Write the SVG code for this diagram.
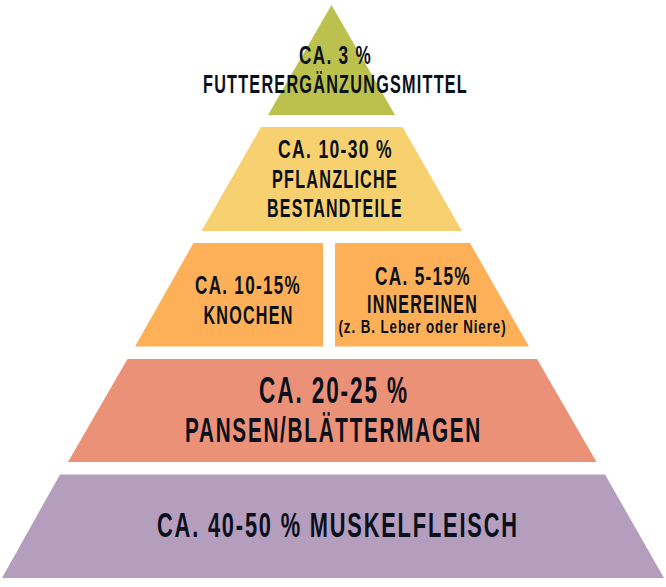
<svg xmlns="http://www.w3.org/2000/svg" width="666" height="587" viewBox="0 0 666 587">
<style>
text{font-family:"Liberation Sans Narrow","Liberation Sans",sans-serif;font-weight:700;fill:#0a101c;font-size:26.5px;letter-spacing:2px}
.l{font-size:36px;letter-spacing:3px}
.s{font-size:17.5px;letter-spacing:1.2px}
</style>
<rect width="666" height="587" fill="#ffffff"/>
<g id="muskelfleisch">
<polygon points="60,474.5 605,474.5 664,578 2,578" fill="#b59dbe"/>
<text class="l" transform="translate(157 537) scale(.6 1)" textLength="603" lengthAdjust="spacingAndGlyphs">CA. 40-50 % MUSKELFLEISCH</text>
</g>
<g id="pansen">
<polygon points="127.5,359 537,359 596.5,462 68,462" fill="#ea9178"/>
<text class="l" x="259" y="403" textLength="150" lengthAdjust="spacingAndGlyphs">CA. 20-25 %</text>
<text class="l" transform="translate(185 441.5) scale(.6 1)" textLength="495" lengthAdjust="spacingAndGlyphs">PANSEN/BLÄTTERMAGEN</text>
</g>
<g id="knochen">
<polygon points="193.5,243 323,243 323,346.5 135,346.5" fill="#fdb058"/>
<text x="195" y="294" textLength="106" lengthAdjust="spacingAndGlyphs">CA. 10-15%</text>
<text x="203.500" y="324" textLength="90" lengthAdjust="spacingAndGlyphs">KNOCHEN</text>
</g>
<g id="innereien">
<polygon points="335,243 470,243 529,346.500 335,346.500" fill="#fdb058"/>
<text x="375" y="285" textLength="96" lengthAdjust="spacingAndGlyphs">CA. 5-15%</text>
<text x="367" y="313" textLength="111" lengthAdjust="spacingAndGlyphs">INNEREINEN</text>
<text class="s" x="338.500" y="333" textLength="168" lengthAdjust="spacingAndGlyphs">(z. B. Leber oder Niere)</text>
</g>
<g id="pflanzlich">
<polygon points="261,127 402.500,127 462,231 201.500,231" fill="#f7d06f"/>
<text x="278" y="158" textLength="115" lengthAdjust="spacingAndGlyphs">CA. 10-30 %</text>
<text x="272" y="188" textLength="126" lengthAdjust="spacingAndGlyphs">PFLANZLICHE</text>
<text x="267" y="216.500" textLength="136" lengthAdjust="spacingAndGlyphs">BESTANDTEILE</text>
</g>
<g id="ergaenzung">
<polygon points="331.500,5 395,115 268,115" fill="#bcc04c"/>
<text x="299" y="63.500" textLength="73" lengthAdjust="spacingAndGlyphs">CA. 3 %</text>
<text x="203" y="92.500" textLength="265" lengthAdjust="spacingAndGlyphs">FUTTERERGÄNZUNGSMITTEL</text>
</g>
<g id="connectors"></g>
</svg>
